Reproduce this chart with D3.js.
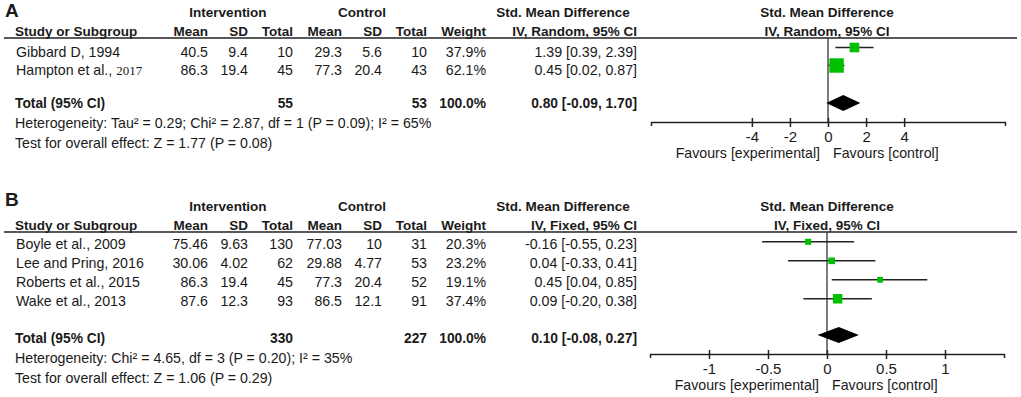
<!DOCTYPE html>
<html><head><meta charset="utf-8">
<script src="https://cdn.jsdelivr.net/npm/d3@7"></script>
<style>
body{margin:0;background:#fff;}
svg{display:block;font-family:"Liberation Sans",Arial,sans-serif;}
</style></head>
<body><svg id="c" width="1021" height="397"></svg>
<script>
// ---------- Panel A data ----------
const studiesA = ["Gibbard D, 1994", "Hampton et al., "];
const studiesAYear = ["", "2017"];
const meanIA = ["40.5", "86.3"];
const sdIA = ["9.4", "19.4"];
const nIA = ["10", "45"];
const meanCA = ["29.3", "77.3"];
const sdCA = ["5.6", "20.4"];
const nCA = ["10", "43"];
const weightA = [37.9, 62.1];
const smdA = [1.39, 0.45];
const lowA = [0.39, 0.02];
const highA = [2.39, 0.87];
const totalA = {nI: "55", nC: "53", est: 0.80, low: -0.09, high: 1.70};
const hetA = "Heterogeneity: Tau² = 0.29; Chi² = 2.87, df = 1 (P = 0.09); I² = 65%";
const testA = "Test for overall effect: Z = 1.77 (P = 0.08)";
const ticksA = [-4, -2, 0, 2, 4];
const tickLabelsA = ["-4", "-2", "0", "2", "4"];
const domainA = [-9.3, 9.3];

// ---------- Panel B data ----------
const studiesB = ["Boyle et al., 2009", "Lee and Pring, 2016", "Roberts et al., 2015", "Wake et al., 2013"];
const meanIB = ["75.46", "30.06", "86.3", "87.6"];
const sdIB = ["9.63", "4.02", "19.4", "12.3"];
const nIB = ["130", "62", "45", "93"];
const meanCB = ["77.03", "29.88", "77.3", "86.5"];
const sdCB = ["10", "4.77", "20.4", "12.1"];
const nCB = ["31", "53", "52", "91"];
const weightB = [20.3, 23.2, 19.1, 37.4];
const smdB = [-0.16, 0.04, 0.45, 0.09];
const lowB = [-0.55, -0.33, 0.04, -0.20];
const highB = [0.23, 0.41, 0.85, 0.38];
const totalB = {nI: "330", nC: "227", est: 0.10, low: -0.08, high: 0.27};
const hetB = "Heterogeneity: Chi² = 4.65, df = 3 (P = 0.20); I² = 35%";
const testB = "Test for overall effect: Z = 1.06 (P = 0.29)";
const ticksB = [-1, -0.5, 0, 0.5, 1];
const tickLabelsB = ["-1", "-0.5", "0", "0.5", "1"];
const domainB = [-1.5, 1.5];

const svg = d3.select("#c");
const TXT = "#1a1a1a";
const GREEN = "#00c000";
const FS = 14.2;   // normal text
const FB = 13.5;   // bold text

function fmt2(v){ return (v<0?"-":"") + Math.abs(v).toFixed(2); }

function drawPanel(p){
  const g = svg.append("g").attr("transform", `translate(0,${p.top})`);
  g.append("text").attr("x",5).attr("y",p.letterY).attr("font-size",19).attr("font-weight","bold").attr("fill",TXT).text(p.letter);
  const hdr = (x, y, t, anchor) => g.append("text").attr("x",x).attr("y",y).attr("text-anchor",anchor)
      .attr("font-size",FB).attr("font-weight","bold").attr("fill",TXT).text(t);
  hdr(228, 17, "Intervention", "middle");
  hdr(362, 17, "Control", "middle");
  hdr(563, 17, "Std. Mean Difference", "middle");
  hdr(827, 17, "Std. Mean Difference", "middle");
  const h2 = 36;
  hdr(15, h2, "Study or Subgroup", "start");
  hdr(208, h2, "Mean", "end");
  hdr(248, h2, "SD", "end");
  hdr(293, h2, "Total", "end");
  hdr(342, h2, "Mean", "end");
  hdr(382, h2, "SD", "end");
  hdr(427, h2, "Total", "end");
  hdr(486, h2, "Weight", "end");
  hdr(637, h2, p.method, "end");
  hdr(827, h2, p.method, "middle");
  g.append("line").attr("x1",4).attr("x2",1017).attr("y1",p.lineY).attr("y2",p.lineY)
    .attr("stroke","#222").attr("stroke-width",1.3);

  const x = d3.scaleLinear().domain(p.domain).range(p.range);
  const rowY = d3.scalePoint().domain(d3.range(p.studies.length)).range([p.row0, p.row0 + p.rowStep*(p.studies.length-1)]);
  const size = d3.scaleLinear().domain([0,100]).range([2, p.sqMax]);

  const cols = [[208,p.meanI],[248,p.sdI],[293,p.nI],[342,p.meanC],[382,p.sdC],[427,p.nC]];
  p.studies.forEach((s,i)=>{
    const y = rowY(i);
    const t = g.append("text").attr("x",16).attr("y",y).attr("font-size",FS).attr("fill",TXT).text(s);
    if (p.years && p.years[i]) t.append("tspan").attr("font-family","Liberation Serif, serif").attr("font-size",13).text(p.years[i]);
    cols.forEach(([cx,arr])=>{
      g.append("text").attr("x",cx).attr("y",y).attr("text-anchor","end").attr("font-size",FS).attr("fill",TXT).text(arr[i]);
    });
    g.append("text").attr("x",486).attr("y",y).attr("text-anchor","end").attr("font-size",FS).attr("fill",TXT).text(p.weight[i].toFixed(1)+"%");
    g.append("text").attr("x",637).attr("y",y).attr("text-anchor","end").attr("font-size",FS).attr("fill",TXT)
      .text(`${fmt2(p.smd[i])} [${fmt2(p.low[i])}, ${fmt2(p.high[i])}]`);
  });
  const ty = p.totalY;
  const bold = (xx,t,anchor)=>g.append("text").attr("x",xx).attr("y",ty).attr("text-anchor",anchor).attr("font-size",FB+0.3).attr("font-weight","bold").attr("fill",TXT).text(t);
  bold(15,"Total (95% CI)","start");
  bold(293,p.total.nI,"end");
  bold(427,p.total.nC,"end");
  bold(486,"100.0%","end");
  bold(637,`${fmt2(p.total.est)} [${fmt2(p.total.low)}, ${fmt2(p.total.high)}]`,"end");
  g.append("text").attr("x",15).attr("y",ty+20).attr("font-size",FS).attr("fill",TXT).text(p.het);
  g.append("text").attr("x",15).attr("y",ty+40).attr("font-size",FS).attr("fill",TXT).text(p.test);

  // plot
  const zx = x(0);
  g.append("line").attr("x1",zx).attr("x2",zx).attr("y1",p.lineY).attr("y2",p.axisY).attr("stroke","#444").attr("stroke-width",1.4);
  p.studies.forEach((s,i)=>{
    const y = rowY(i) + p.markOff;
    g.append("line").attr("x1",x(p.low[i])).attr("x2",x(p.high[i])).attr("y1",y).attr("y2",y).attr("stroke","#222").attr("stroke-width",1.5);
    const w = size(p.weight[i]);
    g.append("rect").attr("x",x(p.smd[i])-w/2).attr("y",y-w/2).attr("width",w).attr("height",w).attr("fill",GREEN);
  });
  const dy = p.totalY + p.diaOff, dh = p.diaH;
  g.append("path").attr("d",`M${x(p.total.low)},${dy} L${x(p.total.est)},${dy-dh} L${x(p.total.high)},${dy} L${x(p.total.est)},${dy+dh} Z`).attr("fill","#000");

  const axis = d3.axisBottom(x).tickValues(p.ticks).tickSizeOuter(0).tickSize(4)
    .tickFormat((d,i)=>p.tickLabels[i]);
  const ag = g.append("g").attr("transform",`translate(0,${p.axisY})`).call(axis);
  ag.select(".domain").attr("stroke","#222").attr("stroke-width",1.5);
  ag.selectAll(".tick line").attr("y1",-4).attr("y2",5).attr("stroke","#222").attr("stroke-width",1.5);
  ag.selectAll(".tick text").attr("font-size",FS+0.8).attr("font-family","Liberation Sans, Arial, sans-serif").attr("fill",TXT).attr("y",9);
  g.append("text").attr("x",zx-8).attr("y",p.axisY+36).attr("text-anchor","end").attr("font-size",FS).attr("fill",TXT).text("Favours [experimental]");
  g.append("text").attr("x",zx+5).attr("y",p.axisY+36).attr("text-anchor","start").attr("font-size",FS).attr("fill",TXT).text("Favours [control]");
}

drawPanel({top:0, letter:"A", letterY:17, method:"IV, Random, 95% CI", lineY:38,
  studies:studiesA, years:studiesAYear, meanI:meanIA, sdI:sdIA, nI:nIA, meanC:meanCA, sdC:sdCA, nC:nCA,
  weight:weightA, smd:smdA, low:lowA, high:highA, total:totalA, het:hetA, test:testA,
  ticks:ticksA, tickLabels:tickLabelsA, domain:domainA, range:[651,1005], row0:57, rowStep:18, totalY:108,
  markOff:-9.5, diaOff:-5, sqMax:22, diaH:8, axisY:122});

drawPanel({top:194, letter:"B", letterY:12, method:"IV, Fixed, 95% CI", lineY:38,
  studies:studiesB, meanI:meanIB, sdI:sdIB, nI:nIB, meanC:meanCB, sdC:sdCB, nC:nCB,
  weight:weightB, smd:smdB, low:lowB, high:highB, total:totalB, het:hetB, test:testB,
  ticks:ticksB, tickLabels:tickLabelsB, domain:domainB, range:[650,1004], row0:55, rowStep:19, totalY:149,
  markOff:-7.2, diaOff:-8, sqMax:22, diaH:8, axisY:160});
</script></body></html>
